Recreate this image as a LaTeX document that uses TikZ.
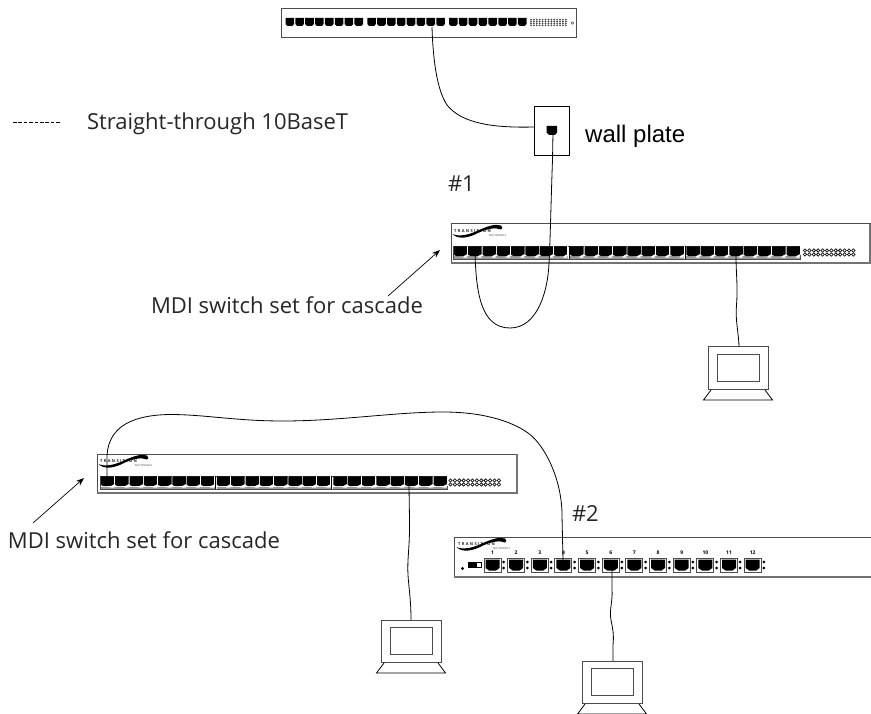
\documentclass[tikz,border=0pt]{standalone}
\usepackage{fontspec}
\setmainfont{Open Sans}
\newfontfamily\armfont{Liberation Sans}
\usetikzlibrary{arrows.meta}
\definecolor{edgegray}{gray}{0.3}
\tikzset{
  cable/.style={draw=black,line width=0.8pt},
  caption/.style={anchor=base west,inner sep=0pt,outer sep=0pt,font=\fontsize{22}{22}\selectfont,text=black!85},
  pointer/.style={draw=black,line width=0.7pt,-{Stealth[length=8pt,width=6pt]}},
  housing/.style={draw=edgegray,line width=1pt,fill=white,inner sep=0pt,outer sep=0pt},
  pcbox/.style={draw=edgegray,line width=1pt,fill=white,inner sep=0pt,outer sep=0pt,minimum width=60pt,minimum height=42pt},
  plate/.style={draw=black,line width=0.8pt,fill=white,inner sep=0pt,outer sep=0pt,minimum width=35pt,minimum height=49pt},
  lednum/.style={inner sep=0pt,font=\fontsize{5}{5}\selectfont\bfseries},
  logotext/.style={inner sep=0pt,anchor=west,font=\fontsize{4}{4}\selectfont\bfseries,text=black!85},
  bigport/.pic={
    \fill[black!40] (0,10.5) rectangle (14.3,13);
    \fill[black] (0.4,0.4) -- (13.9,0.4) -- (13.9,8) -- (10.5,9.8) -- (3,10.2) -- (0.4,8.8) -- cycle;
    \fill[white] (9.5,11.6) -- (14,11.6) -- (13.2,10.2) -- (10.5,10.2) -- cycle;
    \draw[white,line width=0.45pt] (14.1,0.4) -- (14.1,9.5);
  },
  smallport/.pic={
    \fill[black] (0,0) -- (8.6,0) -- (8.6,6) -- (6.8,8) -- (1.8,8) -- (0,6) -- cycle;
  },
  midport/.pic={
    \draw[black!70,line width=1pt] (0,0) rectangle (17,14);
    \fill[black] (1.5,1.5) -- (15.5,1.5) -- (15.5,10) -- (12,12.5) -- (5,12.5) -- (1.5,10) -- cycle;
    \fill[black] (19.7,4) circle (1.5);
    \fill[black] (19.7,10) circle (1.5);
  },
  ledrow/.pic={
    \foreach \i in {0,...,11} {
      \draw[black!90,line width=0.75pt] (\i*4.4,0) circle (1.7);
      \draw[black!90,line width=0.75pt] (\i*4.4,4) circle (1.7);
    }
  },
  logomark/.pic={
    \node[logotext] at (3,7) {T\,\,R\,\,A\,\,N\,\,S\,\,I\,\,T\,\,I\,\,O\,\,N};
    \node[logotext,font=\fontsize{2.6}{3}\selectfont] at (38,11.5) {N\,E\,T\,W\,O\,R\,K\,S};
    \fill[black] (1.5,10) .. controls (8,13) and (18,11) .. (28,6)
       .. controls (36,2.5) and (44,-0.5) .. (50,1.5) .. controls (52,3) and (51.5,5) .. (50,5.5)
       .. controls (44,3) and (36,5) .. (28,8.5) .. controls (18,14) and (7,16) .. cycle;
  },
}
\begin{document}
\begin{tikzpicture}[x=1pt,y=-1pt]
\useasboundingbox (0,0) rectangle (871,714);

% top patch panel
\node[housing,minimum width=295pt,minimum height=29pt] (top) at (428.5,23.5) {};
\foreach \g/\gx in {0/285.5,1/367.3,2/449} {
  \foreach \i in {0,...,7} { \pic at (\gx+\i*9.85,18) {smallport}; }
}
\foreach \i in {0,...,12} { \foreach \j in {0,1,2,3} {
  \fill[black!75] (531+\i*2.9,19.6+\j*1.9) circle (0.95);
}}
\draw[black!70,line width=0.6pt] (572.5,23) circle (1.2);
\coordinate (topport) at (432,27);

% wall plate
\node[plate] (wall) at (551.5,130.5) {};
\fill[black] (546.5,126) -- (557,126) -- (557,132.5) -- (555,135) -- (549,135) -- (546.5,132.5) -- cycle;
\coordinate (jack) at (553,133);
\coordinate (wallw) at (wall.west |- 0,127);
\node[anchor=base west,inner sep=0pt,font=\armfont\fontsize{24}{24}\selectfont] (walllabel) at (585,143) {wall plate};

% legend
\coordinate (lega) at (13,122);
\coordinate (legb) at (60,122);
\draw[black,line width=0.7pt,dash pattern=on 3.6pt off 1.8pt] (lega) -- (legb);
\node[caption] (legend) at (87,129.5) {Straight-through 10BaseT};

% switch 1
\node[caption] (n1) at (448,192) {\#1};
\node[housing,minimum width=419pt,minimum height=39pt] (sw1) at (660.5,243.5) {};
\draw[black!55,line width=1.2pt] (sw1.south west) -- (sw1.south east) -- (sw1.north east);
\pic at (451,224) {logomark};
\draw[black!70,line width=0.8pt] (453.5,246) rectangle (800.7,259);
\foreach \gx in {453.5,569.8,686} {
  \foreach \i in {0,...,7} { \pic at (\gx+\i*14.3,246) {bigport}; }
}
\draw[black,line width=0.9pt] (569.3,246) -- (569.3,259);
\draw[black,line width=0.9pt] (685,246) -- (685,259);
\pic at (805,250.5) {ledrow};
\coordinate (sw1loop) at (475,252);
\coordinate (sw1pc) at (736,255);

% left switch
\node[housing,minimum width=420pt,minimum height=39pt] (sw3) at (307,473.5) {};
\draw[black!55,line width=1.2pt] (sw3.south west) -- (sw3.south east) -- (sw3.north east);
\pic at (97,454) {logomark};
\draw[black!70,line width=0.8pt] (100.5,476) rectangle (447,489);
\foreach \gx in {100.5,216.5,333} {
  \foreach \i in {0,...,7} { \pic at (\gx+\i*14.3,476) {bigport}; }
}
\draw[black,line width=0.9pt] (215,476) -- (215,489);
\draw[black,line width=0.9pt] (331,476) -- (331,489);
\pic at (450.5,480.5) {ledrow};
\coordinate (sw3up) at (107,477);
\coordinate (sw3pc) at (409,486);

% switch 2
\coordinate (sw2tl) at (454,537);
\coordinate (sw2bl) at (454,577);
\coordinate (sw2tr) at (871,537);
\coordinate (sw2br) at (871,577);
\draw[edgegray,line width=1pt] (sw2tr) -- (sw2tl) -- (sw2bl);
\draw[black!55,line width=1.2pt] (sw2bl) -- (sw2br);
\pic at (455,537) {logomark};
\fill[black] (462.5,568.5) circle (1.6);
\draw[black,line width=0.8pt,fill=white] (468.5,562) rectangle (481.5,567.5);
\fill[black] (468.5,562) rectangle (476.5,567.5);
\foreach \i in {1,...,12} {
  \pic at (484+\i*23.65-23.65,558) {midport};
  \node[lednum] (lbl\i) at (492.5+\i*23.65-23.65,552.3) {\i};
}
\coordinate (sw2four) at (563,560);
\coordinate (sw2six) at (612,566);
\node[caption] (n2) at (572,521) {\#2};

% captions + pointers
\node[caption] (mdi1) at (151,314) {MDI switch set for cascade};
\node[caption] (mdi2) at (8,548) {MDI switch set for cascade};
\coordinate (ar1a) at (388,296);
\coordinate (ar1b) at (440,250);
\coordinate (ar2a) at (33,523);
\coordinate (ar2b) at (84,478);
\draw[pointer] (ar1a) -- (ar1b);
\draw[pointer] (ar2a) -- (ar2b);

% computers
\foreach \nm/\cx/\cy in {pc1/738/368, pc2/411/641, pc3/612/682} {
  \node[pcbox] (\nm) at (\cx,\cy) {};
  \draw[edgegray,line width=1pt] (\cx-21,\cy-13.5) rectangle (\cx+21,\cy+13.5);
  \draw[edgegray,line width=1.6pt] (\cx-30,\cy+21.5) -- (\cx+30,\cy+21.5);
  \draw[black,line width=0.8pt] (\cx-27,\cy+22) -- (\cx-34.5,\cy+32) -- (\cx+34.5,\cy+32) -- (\cx+27,\cy+22);
}

% cables
\draw[cable] (topport) .. controls (433,60) and (437,90) .. (447,105)
   .. controls (462,124) and (495,128) .. (wallw);
\draw[cable] (jack) -- (552.5,160) .. controls (551,200) and (550,250) .. (549,263)
   .. controls (548,290) and (538,328) .. (510,328)
   .. controls (480,328) and (476,290) .. (sw1loop);
\draw[cable] (sw1pc) .. controls (736,275) and (738,285) .. (736.5,305)
   .. controls (735,320) and (739,335) .. (pc1.north -| 739,0);
\draw[cable] (sw3up) -- (107,455) .. controls (109,425) and (135,415) .. (170,414.5)
   .. controls (205,414.5) and (235,421) .. (283,421)
   .. controls (340,421) and (395,412) .. (443,412)
   .. controls (480,412) and (510,420) .. (528,433)
   .. controls (545,445) and (562,480) .. (562,515) -- (sw2four);
\draw[cable] (sw3pc) -- (409.5,520) .. controls (410,545) and (407,560) .. (408,575)
   .. controls (409,590) and (411,600) .. (pc2.north);
\draw[cable] (sw2six) -- (612,590) .. controls (613,600) and (609,610) .. (611,620)
   .. controls (613,630) and (614,635) .. (613,645) -- (pc3.north -| 613,0);
\end{tikzpicture}
\end{document}
